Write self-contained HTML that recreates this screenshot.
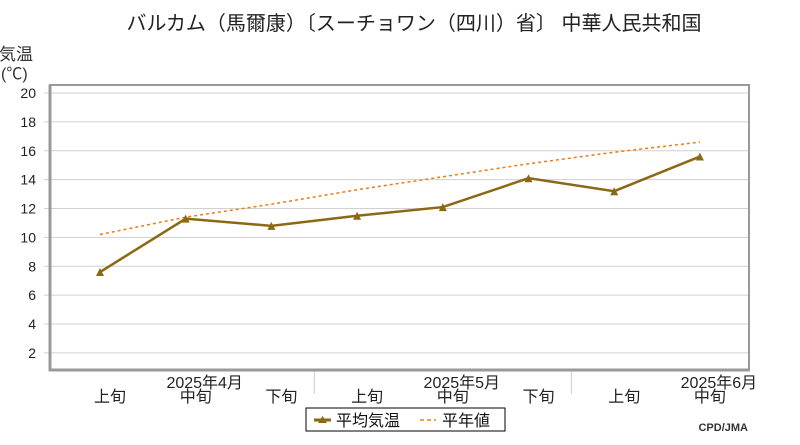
<!DOCTYPE html>
<html><head><meta charset="utf-8"><style>
body{margin:0;background:#fff;}
svg text{font-family:"Liberation Sans","Noto Sans CJK JP",sans-serif;}
</style></head><body>
<svg width="800" height="440" xmlns="http://www.w3.org/2000/svg">
<text x="414" y="30" font-size="20" text-anchor="middle" fill="#222">バルカム（馬爾康）〔スーチョワン（四川）省〕 中華人民共和国</text>
<text x="-1" y="60" font-size="17" fill="#333">気温</text>
<text x="1" y="79" font-size="16" fill="#333">(℃)</text>
<g id="grid"></g>
<rect x="50" y="85" width="699" height="285" fill="none" stroke="#999" stroke-width="2"/>
<line x1="50" y1="85" x2="50" y2="371" stroke="#999" stroke-width="3"/>
<line x1="49" y1="370" x2="750" y2="370" stroke="#999" stroke-width="3"/>
<g id="marks"></g>
<g>
<rect x="306" y="408" width="199" height="23" fill="#fff" stroke="#000" stroke-width="1"/>
<line x1="314" y1="420" x2="331" y2="420" stroke="#8B6914" stroke-width="3"/>
<path d="M318,423 L322.5,416 L327,423Z" fill="#8B6914"/>
<text x="336" y="426" font-size="16" fill="#111">平均気温</text>
<line x1="420" y1="420" x2="436" y2="420" stroke="#f07a10" stroke-width="1.5" stroke-dasharray="4,3"/>
<text x="442" y="426" font-size="16" fill="#111">平年値</text>
</g>
<text x="748" y="431" font-size="11" font-weight="bold" text-anchor="end" fill="#333" font-family="Liberation Mono">CPD/JMA</text>
</svg>
<script>
const categories=["上旬","中旬","下旬","上旬","中旬","下旬","上旬","中旬"];
const monthLabels=["2025年4月","2025年5月","2025年6月"];
const monthIdx=[1,4,7];
const meanTemp=[7.6,11.3,10.8,11.5,12.1,14.1,13.2,15.6];
const normalTemp=[10.2,11.4,12.3,13.3,14.2,15.1,15.9,16.6];
const yTicks=[2,4,6,8,10,12,14,16,18,20];
const NS="http://www.w3.org/2000/svg";
const xS=i=>100+i*85.7;
const yS=v=>93+(20-v)*14.44;
function mk(t,a,p){const e=document.createElementNS(NS,t);for(const k in a)e.setAttribute(k,a[k]);p.appendChild(e);return e;}
const grid=document.getElementById('grid'),marks=document.getElementById('marks'),svg=document.querySelector('svg');
yTicks.forEach(v=>{
 const l=mk('line',{x1:44,x2:749,y1:yS(v),y2:yS(v),stroke:'#d0d0d0','stroke-width':1},grid);
 
 
 const t=mk('text',{x:36,y:yS(v)+5,'font-size':14,'text-anchor':'end',fill:'#222'},grid);
 t.textContent=v;
 
 
});
[2.5,5.5].forEach(p=>{
 const l=mk('line',{x1:xS(p),x2:xS(p),y1:371,y2:394,stroke:'#ccc','stroke-width':1},grid);
 
 
});
categories.forEach((c,i)=>{
 const t=mk('text',{x:xS(i)+10,y:402,'font-size':16,'text-anchor':'middle',fill:'#222'},svg);
 t.textContent=c;
 
 
});
monthLabels.forEach((m,j)=>{
 const t=mk('text',{x:xS(monthIdx[j])+19,y:388,'font-size':16,'text-anchor':'middle',fill:'#222'},svg);
 t.textContent=m;
 
 
});
const np=mk('polyline',{points:normalTemp.map((v,i)=>xS(i)+','+yS(v)).join(' '),fill:'none',stroke:'#f07a10','stroke-width':1.5,'stroke-dasharray':'3,3'},marks);


const mp=mk('polyline',{points:meanTemp.map((v,i)=>xS(i)+','+yS(v)).join(' '),fill:'none',stroke:'#8B6914','stroke-width':2.5},marks);


meanTemp.forEach((v,i)=>{
 const x=xS(i),y=yS(v);
 const p=mk('path',{d:`M${x-4},${y+4} L${x},${y-4} L${x+4},${y+4}Z`,fill:'#8B6914'},marks);
 
 
});
</script>
</body></html>
